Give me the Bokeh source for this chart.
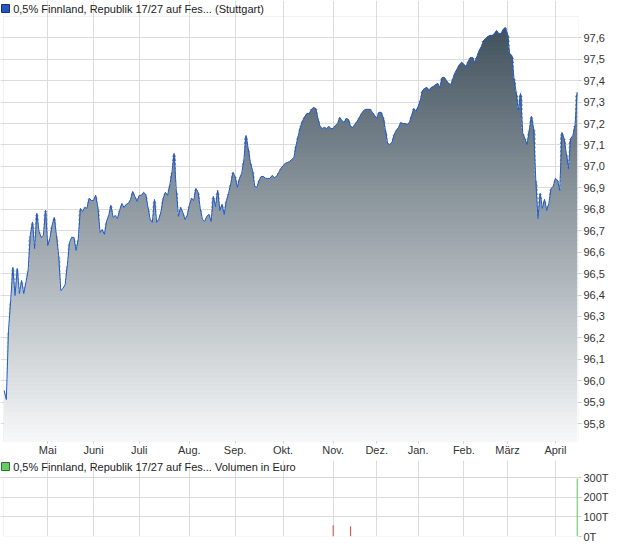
import numpy as np
import pandas as pd
from bokeh.plotting import figure
from bokeh.models import Range1d, FixedTicker, Grid, Label, BoxAnnotation
from bokeh.layouts import column
from bokeh.embed import file_html
from bokeh.resources import INLINE

# ---------------- data ----------------
start_date = "2025-04-01"
end_date = "2026-04-17"
exchange_holidays = ["2025-04-18", "2025-04-21", "2025-05-01", "2025-12-24", "2025-12-25",
                     "2025-12-26", "2025-12-31", "2026-01-01", "2026-04-03", "2026-04-06"]

price = [
    95.955, 95.913, 96.235, 96.375, 96.529, 96.398, 96.524, 96.407, 96.468, 96.407,
    96.459, 96.515, 96.678, 96.739, 96.617, 96.781, 96.697, 96.669, 96.678, 96.795,
    96.631, 96.664, 96.725, 96.762, 96.678, 96.585, 96.421, 96.431, 96.449, 96.538,
    96.645, 96.669, 96.669, 96.608, 96.659, 96.804, 96.790, 96.809, 96.804, 96.851,
    96.841, 96.841, 96.865, 96.809, 96.692, 96.706, 96.683, 96.743, 96.771, 96.818,
    96.762, 96.771, 96.757, 96.795, 96.827, 96.809, 96.823, 96.827, 96.846, 96.883,
    96.860, 96.837, 96.865, 96.865, 96.879, 96.869, 96.809, 96.753, 96.739, 96.846,
    96.739, 96.753, 96.790, 96.851, 96.879, 96.865, 96.911, 96.972, 97.060, 96.888,
    96.767, 96.809, 96.785, 96.753, 96.771, 96.818, 96.851, 96.841, 96.897, 96.879,
    96.804, 96.753, 96.743, 96.767, 96.776, 96.743, 96.860, 96.813, 96.888, 96.795,
    96.823, 96.776, 96.841, 96.874, 96.920, 96.972, 96.953, 96.902, 96.944, 96.967,
    97.028, 97.144, 97.084, 97.018, 96.981, 96.907, 96.902, 96.935, 96.953, 96.953,
    96.944, 96.944, 96.944, 96.958, 96.948, 96.953, 96.972, 96.990, 97.004, 97.014,
    97.018, 97.023, 97.032, 97.042, 97.098, 97.144, 97.186, 97.214, 97.233, 97.247,
    97.247, 97.266, 97.275, 97.270, 97.224, 97.186, 97.177, 97.182, 97.177, 97.186,
    97.177, 97.177, 97.191, 97.200, 97.228, 97.214, 97.205, 97.224, 97.219, 97.186,
    97.182, 97.196, 97.210, 97.228, 97.247, 97.261, 97.266, 97.266, 97.266, 97.252,
    97.238, 97.224, 97.252, 97.252, 97.228, 97.168, 97.107, 97.102, 97.112, 97.149,
    97.168, 97.182, 97.205, 97.200, 97.200, 97.196, 97.205, 97.238, 97.270, 97.256,
    97.280, 97.308, 97.354, 97.364, 97.368, 97.354, 97.368, 97.373, 97.382, 97.387,
    97.368, 97.415, 97.415, 97.401, 97.387, 97.382, 97.410, 97.438, 97.457, 97.476,
    97.485, 97.476, 97.466, 97.490, 97.508, 97.508, 97.485, 97.513, 97.541, 97.559,
    97.587, 97.597, 97.606, 97.611, 97.611, 97.620, 97.634, 97.620, 97.620, 97.639,
    97.648, 97.620, 97.527, 97.517, 97.410, 97.345, 97.261, 97.340, 97.154, 97.130,
    97.102, 97.168, 97.233, 97.177, 96.935, 96.757, 96.874, 96.804, 96.846, 96.795,
    96.827, 96.897, 96.907, 96.944, 96.935, 96.888, 97.158, 97.130, 97.060, 96.990,
    97.130, 97.144, 97.191, 97.345,
]

month_names = ["Jan.", "Feb.", "März", "April", "Mai", "Juni", "Juli", "Aug.",
               "Sep.", "Okt.", "Nov.", "Dez."]
price_ticks = [95.8, 95.9, 96.0, 96.1, 96.2, 96.3, 96.4, 96.5, 96.6, 96.7,
               96.8, 96.9, 97.0, 97.1, 97.2, 97.3, 97.4, 97.5, 97.6]
price_tick_labels = ["95,8", "95,9", "96,0", "96,1", "96,2", "96,3", "96,4", "96,5", "96,6", "96,7",
                     "96,8", "96,9", "97,0", "97,1", "97,2", "97,3", "97,4", "97,5", "97,6"]

vol_dates = ["2025-11-03", "2025-11-13", "2026-04-17"]
vol_values = [57000, 52000, 295000]
vol_ticks = [0, 100000, 200000, 300000]
vol_tick_labels = ["0T", "100T", "200T", "300T"]

title_main = "0,5% Finnland, Republik 17/27 auf Fes... (Stuttgart)"
title_vol = "0,5% Finnland, Republik 17/27 auf Fes... Volumen in Euro"

# ---------------- derived ----------------
days = pd.bdate_range(start_date, end_date, freq="C", holidays=exchange_holidays)
n = min(len(days), len(price))
days = days[:n]
y = np.array(price[:n], dtype=float)
x = np.arange(n)

month_idx = [i for i in range(1, n) if days[i].month != days[i - 1].month]
month_over = {int(i): month_names[days[i].month - 1] for i in month_idx}

FONT = "Liberation Sans"
GRID = "#dcdcdc"
BORDER = "#d0d0d0"
TXT = "#333333"

# layout (pixels)
PLOT_W = 575          # width of the boxed plot area
LEFT_PAD = 3          # room left of the box (legend square sits there)
MAIN_PLOT_H, MAIN_HEAD = 425, 16
VOL_PLOT_H, VOL_HEAD = 59, 17

X0, X1 = -0.3, n - 0.4
px_x = (X1 - X0) / PLOT_W
Y_LO, Y_HI = 95.717, 97.699
py_main = (Y_HI - Y_LO) / MAIN_PLOT_H
Y_TOP = Y_HI + MAIN_HEAD * py_main
V_HI = vol_ticks[-1]
py_vol = V_HI / VOL_PLOT_H
V_TOP = V_HI + VOL_HEAD * py_vol

x_range = Range1d(X0 - LEFT_PAD * px_x, X1)
FIG_W = LEFT_PAD + PLOT_W + 34


def add_header(fig, text, y_mid, fill, line):
    fig.scatter(x=[X0 + 2.0 * px_x], y=[y_mid], marker="square", size=8,
                fill_color=fill, line_color=line, line_width=1)
    fig.add_layout(Label(x=X0 + 9.7 * px_x, y=y_mid, text=text, text_font=FONT,
                         text_font_size="11px", text_color="#222222",
                         text_baseline="middle", text_align="left"))


def style_yaxis(ax):
    ax.axis_line_color = None
    ax.major_tick_line_color = "#cccccc"
    ax.major_tick_in = 0
    ax.major_tick_out = 3
    ax.minor_tick_line_color = None
    ax.major_label_text_font = FONT
    ax.major_label_text_font_size = "11px"
    ax.major_label_text_color = TXT
    ax.major_label_standoff = 2


# ---------------- price panel ----------------
p = figure(width=FIG_W, height=MAIN_HEAD + MAIN_PLOT_H + 19,
           x_range=x_range, y_range=Range1d(Y_LO, Y_TOP),
           y_axis_location="right", output_backend="svg", toolbar_location=None,
           min_border_left=0, min_border_right=34, min_border_top=0, min_border_bottom=19)
p.background_fill_color = "white"
p.border_fill_color = "white"
p.outline_line_color = None

# gradient area built from horizontal bands
n_bands = 100
edges = np.linspace(Y_LO, Y_HI, n_bands + 1)
top_rgb = np.array([60, 77, 89], dtype=float)
bot_rgb = np.array([247, 248, 249], dtype=float)
for k in range(n_bands):
    lo, hi = edges[k], edges[k + 1]
    t = (0.5 * (lo + hi) - Y_LO) / (Y_HI - Y_LO)
    rgb = bot_rgb + (top_rgb - bot_rgb) * t
    col = "#%02x%02x%02x" % tuple(int(round(c)) for c in rgb)
    top = np.clip(y, lo, hi + (hi - lo) * 0.7)
    p.varea(x=x, y1=np.full(n, lo), y2=top, fill_color=col, fill_alpha=1.0)

p.line(x, y, line_color="#1f5bc8", line_width=1.0)

p.xaxis.ticker = FixedTicker(ticks=month_idx)
p.xaxis.major_label_overrides = month_over
p.xaxis.axis_line_color = None
p.xaxis.major_tick_line_color = "#cccccc"
p.xaxis.major_tick_in = 0
p.xaxis.major_tick_out = 2
p.xaxis.minor_tick_line_color = None
p.xaxis.major_label_text_font = FONT
p.xaxis.major_label_text_font_size = "11px"
p.xaxis.major_label_text_color = TXT
p.xaxis.major_label_standoff = 0

p.yaxis.ticker = FixedTicker(ticks=price_ticks)
p.yaxis.major_label_overrides = dict(zip(price_ticks, price_tick_labels))
style_yaxis(p.yaxis)

p.xgrid.grid_line_color = GRID
p.xgrid.bounds = (Y_LO, Y_HI)
p.ygrid.grid_line_color = GRID
p.ygrid.bounds = (X0, X1)
p.add_layout(BoxAnnotation(left=X0, right=X1, bottom=Y_LO, top=Y_HI, fill_alpha=0,
                           line_color=BORDER, line_width=1, level="overlay"))

add_header(p, title_main, Y_TOP - 8 * py_main, "#2457c5", "#1a2f6e")

# ---------------- volume panel ----------------
p2 = figure(width=FIG_W, height=VOL_HEAD + VOL_PLOT_H + 8,
            x_range=x_range, y_range=Range1d(0, V_TOP),
            y_axis_location="right", x_axis_location=None,
            output_backend="svg", toolbar_location=None,
            min_border_left=0, min_border_right=34, min_border_top=0, min_border_bottom=8)
p2.background_fill_color = "white"
p2.border_fill_color = "white"
p2.outline_line_color = None
p2.xgrid.visible = False
p2.add_layout(Grid(dimension=0, ticker=FixedTicker(ticks=month_idx), grid_line_color=GRID,
                   bounds=(0, V_HI)))

vol_x = [int(days.get_loc(pd.Timestamp(d))) for d in vol_dates]
vol_col = ["#5cc65c" if (i > 0 and y[i] > y[i - 1]) else "#d9413e" for i in vol_x]
p2.vbar(x=vol_x, top=vol_values, width=0.45, fill_color=vol_col, line_color=None)

p2.yaxis.ticker = FixedTicker(ticks=vol_ticks)
p2.yaxis.major_label_overrides = dict(zip(vol_ticks, vol_tick_labels))
style_yaxis(p2.yaxis)
p2.ygrid.grid_line_color = GRID
p2.ygrid.bounds = (X0, X1)
p2.add_layout(BoxAnnotation(left=X0, right=X1, bottom=0, top=V_HI, fill_alpha=0,
                            line_color=BORDER, line_width=1, level="overlay"))

add_header(p2, title_vol, V_TOP - 6 * py_vol, "#66cc66", "#2f6f2f")

layout = column(p, p2, spacing=0)
open("out.html", "w").write(file_html(layout, INLINE))
